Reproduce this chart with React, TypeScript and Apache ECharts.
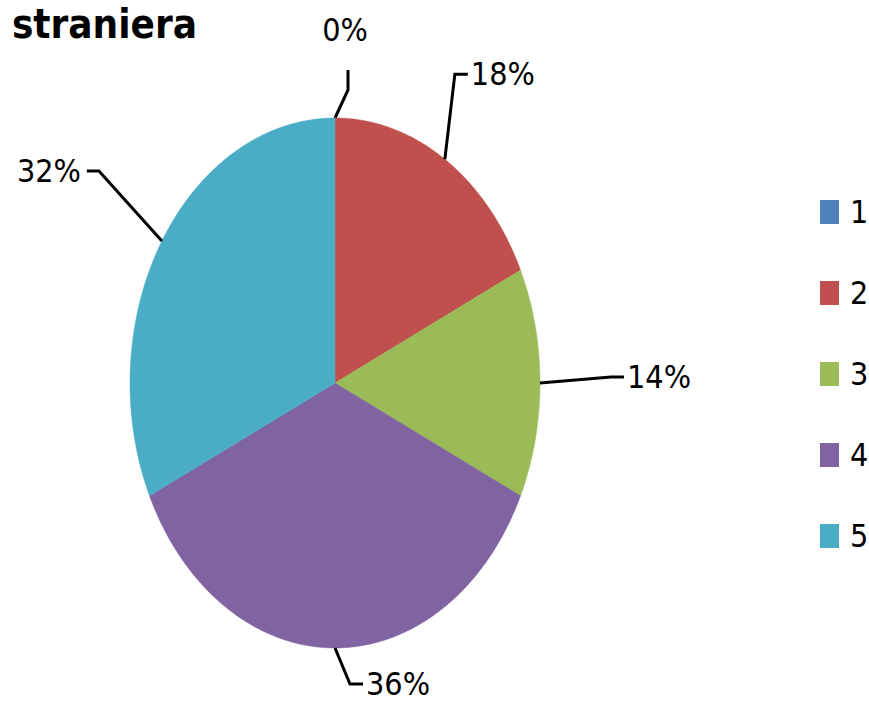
import { useEffect, useRef } from "react";
import * as echarts from "echarts";

const categories = ["1", "2", "3", "4", "5"];
const values = [0, 18, 14, 36, 32];
const percentLabels = ["0%", "18%", "14%", "36%", "32%"];
const titleText = "straniera";

const colors = ["#4F81BD", "#C0504D", "#9BBB59", "#8064A2", "#4BACC6"];
// leader line layout (relative offsets from the slice's anchor point)
const leaderBend = [[13, -28], [10, -85], [71, -6], [15, 36], [-63, -70]];
const leaderTail = [[0, -20], [13, 0], [13, 0], [13, 0], [-12, 0]];
const labelGap = [[-3, -24], [3, 0], [3, 0], [3, 0], [-6, 0]];

const FONT = "'Liberation Sans Narrow', 'DejaVu Sans Condensed', 'Liberation Sans', sans-serif";

export default function App() {
  const ref = useRef<HTMLDivElement>(null);
  useEffect(() => {
    if (!ref.current) return;
    const chart = echarts.init(ref.current, undefined, { renderer: "svg" });
    const total = values.reduce((a, b) => a + b, 0);
    const cum: number[] = [];
    let acc = 0;
    values.forEach((v) => {
      cum.push(acc);
      acc += v;
    });
    const cx = 335, cy = 383, rx = 205, ry = 265;
    const pt = (a: number): [number, number] => [cx + rx * Math.sin(a), cy - ry * Math.cos(a)];

    const series = categories.map((name, i) => ({
      type: "custom",
      name,
      coordinateSystem: "none",
      itemStyle: { color: colors[i] },
      data: [[values[i], cum[i]]],
      renderItem: () => {
        const a0 = (cum[i] / total) * Math.PI * 2;
        const a1 = ((cum[i] + values[i]) / total) * Math.PI * 2;
        const children: any[] = [];
        if (a1 > a0) {
          const pts: number[][] = [[cx, cy]];
          const n = Math.max(2, Math.ceil((a1 - a0) / 0.01));
          for (let k = 0; k <= n; k++) pts.push(pt(a0 + ((a1 - a0) * k) / n));
          children.push({
            type: "polygon",
            shape: { points: pts },
            style: { fill: colors[i], stroke: colors[i], lineWidth: 0.5 },
          });
        }
        const am = (a0 + a1) / 2;
        const anchor = pt(am);
        const bend = [anchor[0] + leaderBend[i][0], anchor[1] + leaderBend[i][1]];
        const tail = [bend[0] + leaderTail[i][0], bend[1] + leaderTail[i][1]];
        children.push({
          type: "polyline",
          shape: { points: [anchor, bend, tail] },
          style: { stroke: "#000", lineWidth: 3, fill: null },
        });
        const right = leaderTail[i][0] < 0;
        const up = leaderTail[i][1] < 0;
        children.push({
          type: "text",
          x: tail[0] + labelGap[i][0],
          y: tail[1] + labelGap[i][1],
          style: {
            text: percentLabels[i],
            fill: "#000",
            fontSize: 32,
            fontFamily: FONT,
            align: up ? "center" : right ? "right" : "left",
            textAlign: up ? "center" : right ? "right" : "left",
            verticalAlign: up ? "bottom" : "middle",
            textVerticalAlign: up ? "bottom" : "middle",
          },
        });
        return { type: "group", children };
      },
    }));

    chart.setOption({
      animation: false,
      color: colors,
      graphic: [
        {
          type: "text",
          x: 197,
          y: 24,
          style: {
            text: titleText,
            fill: "#000",
            fontSize: 40,
            lineHeight: 40,
            fontWeight: "bold",
            fontFamily: FONT,
            align: "right",
            textAlign: "right",
            verticalAlign: "middle",
            textVerticalAlign: "middle",
          },
        },
      ],
      legend: {
        orient: "vertical",
        left: 815,
        top: 191,
        data: categories,
        icon: "rect",
        itemWidth: 19,
        itemHeight: 24,
        itemGap: 49,
        textStyle: {
          fontSize: 32,
          fontFamily: FONT,
          color: "#000",
          lineHeight: 32,
          padding: [0, 0, 0, 6],
        },
        selectedMode: false,
      },
      series,
    } as any);
    return () => chart.dispose();
  }, []);
  return (
    <div
      ref={ref}
      style={{ position: "fixed", left: 0, top: 0, width: 869, height: 704, background: "#fff" }}
    />
  );
}
